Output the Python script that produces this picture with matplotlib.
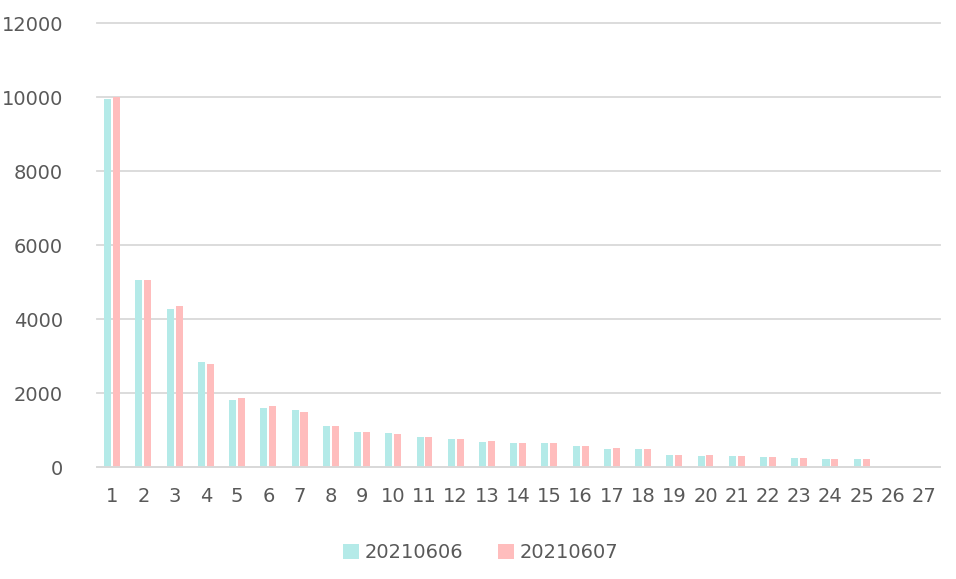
import numpy as np
import matplotlib.pyplot as plt

categories = [str(i) for i in range(1, 28)]
s0606 = [9940, 5060, 4270, 2840, 1820, 1600, 1560, 1125, 965, 935, 830, 775, 695,
         665, 665, 585, 505, 480, 340, 315, 315, 290, 260, 235, 210, 0, 0]
s0607 = [10010, 5060, 4350, 2790, 1870, 1655, 1480, 1125, 965, 910, 830, 775, 720,
         665, 665, 585, 530, 480, 340, 340, 315, 265, 260, 235, 210, 0, 0]
series_names = ["20210606", "20210607"]
colors = ["#B4EAE8", "#FFBDBD"]

fig = plt.figure(figsize=(9.56, 5.79), dpi=100)
ax = fig.add_axes([0.101, 0.193, 0.882, 0.767])

x = np.arange(len(categories))
w = 0.225
gap = 0.03
ax.bar(x - w / 2 - gap, s0606, width=w, color=colors[0], label=series_names[0], zorder=3)
ax.bar(x + w / 2 + gap, s0607, width=w, color=colors[1], label=series_names[1], zorder=3)

ax.set_xlim(-0.5, len(categories) - 0.5)
ax.set_ylim(0, 12000)
ax.set_yticks(range(0, 12001, 2000))
ax.set_xticks(x)
ax.set_xticklabels(categories)

ax.grid(axis="y", color="#D9D9D9", linewidth=1.3, zorder=0)
for gl in ax.get_ygridlines():
    gl.set_clip_on(False)
for s in ["top", "right", "left"]:
    ax.spines[s].set_visible(False)
ax.spines["bottom"].set_color("#D9D9D9")
ax.spines["bottom"].set_linewidth(1.3)
ax.spines["bottom"].set_zorder(4)

ax.tick_params(axis="y", length=0, pad=24, labelsize=14, labelcolor="#595959")
ax.tick_params(axis="x", length=0, pad=14, labelsize=14, labelcolor="#595959")

leg = fig.legend(loc="center", bbox_to_anchor=(0.503, 0.046), ncol=2, frameon=False,
                 fontsize=14, handlelength=0.8, handleheight=0.8, handletextpad=0.3,
                 columnspacing=1.8)
for t in leg.get_texts():
    t.set_color("#595959")

fig.savefig("out.png", dpi=100)
